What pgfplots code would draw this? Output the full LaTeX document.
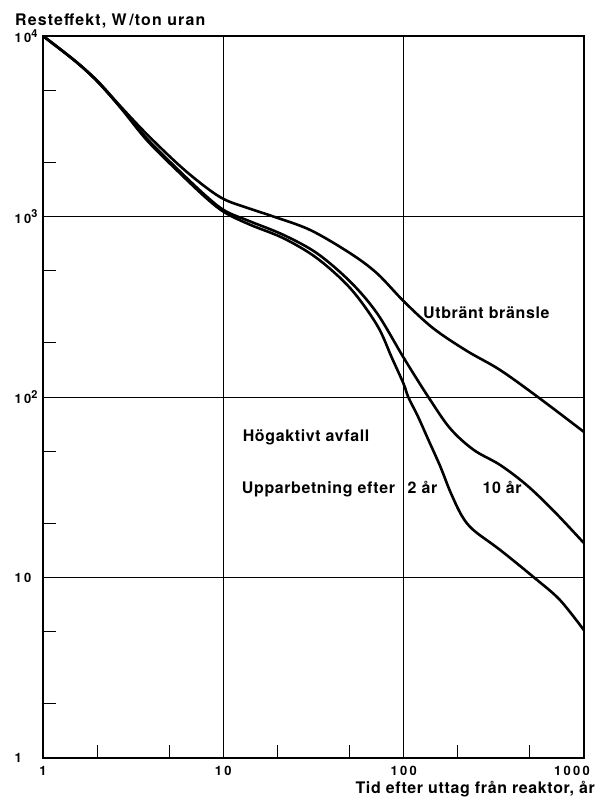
\documentclass[border=0pt]{standalone}
\usepackage{fontspec}
\setmainfont{TeX Gyre Heros}
\newfontfamily\labfont[LetterSpace=4]{TeX Gyre Heros}
\newfontfamily\titfont[LetterSpace=7]{TeX Gyre Heros}
\newfontfamily\tickfont[LetterSpace=18]{TeX Gyre Heros}
\usepackage{pgfplots}
\pgfplotsset{compat=1.18}
\newcommand{\T}[1]{\mbox{\tickfont\bfseries\fontsize{13}{14}\selectfont #1}}
\newcommand{\supx}[1]{\raisebox{0.42em}{\fontsize{11}{12}\selectfont #1}}
\newcommand{\lab}{\labfont\bfseries\fontsize{16}{18}\selectfont}
\newcommand{\tit}{\titfont\bfseries\fontsize{16}{18}\selectfont}
\begin{document}
\begin{tikzpicture}
\useasboundingbox (-43bp,-40bp) rectangle (553bp,758bp);
\begin{axis}[
  at={(0,0)}, anchor=south west,
  scale only axis, width=541bp, height=722bp,
  xmode=log, ymode=log,
  xmin=1, xmax=1000, ymin=1, ymax=10000,
  xtick={1,10,100}, xticklabels={\T{1},\T{10},\T{100}},
  extra x ticks={1000}, extra x tick labels={\T{1000}},
  extra x tick style={xticklabel style={xshift=-12bp}, grid=major},
  ytick={1,10,100,1000,10000},
  yticklabels={\T{1},\T{10},\T{10\supx{2}},\T{10\supx{3}},\raisebox{-6bp}{\T{10\supx{4}}}},
  minor xtick={2,5,20,50,200,500},
  minor ytick={2,5,20,50,200,500,2000,5000},
  grid=major, major grid style={black, line width=0.9bp},
  xtick pos=bottom, ytick pos=left, tick align=inside,
  major tick length=0pt, minor tick length=13bp,
  every tick/.style={black, line width=1bp},
  axis line style={black, line width=1.3bp},
  xticklabel style={anchor=north, yshift=-4.5bp},
  yticklabel style={anchor=west, xshift=-32bp},
]
% Utbränt bränsle
\addplot[black, line width=2.6bp, smooth, tension=0.55] coordinates {
(1,10000)(1.5,7300)(2,5650)(2.7,4060)(3.8,2830)(5.8,1890)(8.15,1432)(10.3,1234)
(14.2,1100)(19.1,997)(30.4,841)(50.6,625)(71.2,484)(100.7,337)(146,240)
(224,180)(343,141)(570,98)(1000,64)};
% Upparbetning efter 10 år
\addplot[black, line width=2.6bp, smooth, tension=0.55] coordinates {
(1,10000)(1.5,7300)(2,5620)(2.7,4020)(3.8,2680)(5.8,1760)(8.15,1280)(10.3,1070)
(14.2,936)(21.6,790)(33.1,625)(50.6,435)(71.2,291)(100,165)(137,100)(181,67)
(244,51)(343,42)(481,32.5)(676,23.5)(1000,15.5)};
% Upparbetning efter 2 år
\addplot[black, line width=2.6bp, smooth, tension=0.55] coordinates {
(1,10000)(1.5,7300)(2,5600)(2.7,3990)(3.8,2620)(5.8,1720)(8.15,1250)(10.3,1045)
(14.2,897)(21.6,757)(33.1,587)(50.6,400)(71.2,250)(86,165)(100,118)(106,100)
(120,78)(137,58)(160,41)(181,30)(210,22)(244,18.3)(343,14.2)(535,9.9)(736,7.5)(1000,5.1)};
\node[anchor=base west, inner sep=0, font=\lab] at (axis cs:128,273) {Utbränt bränsle};
\node[anchor=base west, inner sep=0, font=\lab] at (axis cs:12.8,56.5) {Högaktivt avfall};
\node[anchor=base west, inner sep=0, font=\lab] at (axis cs:12.65,29.3) {Upparbetning efter};
\node[anchor=base west, inner sep=0, font=\lab] at (axis cs:105,29.3) {2 år};
\node[anchor=base west, inner sep=0, font=\lab] at (axis cs:273,29.3) {10 år};
\end{axis}
\node[anchor=base west, inner sep=0, font=\tit] at (-28bp,732.5bp) {Resteffekt, W\,/ton uran};
\node[anchor=base east, inner sep=0, font=\lab] at (552bp,-35bp) {Tid efter uttag från reaktor, år};
\end{tikzpicture}
\end{document}
